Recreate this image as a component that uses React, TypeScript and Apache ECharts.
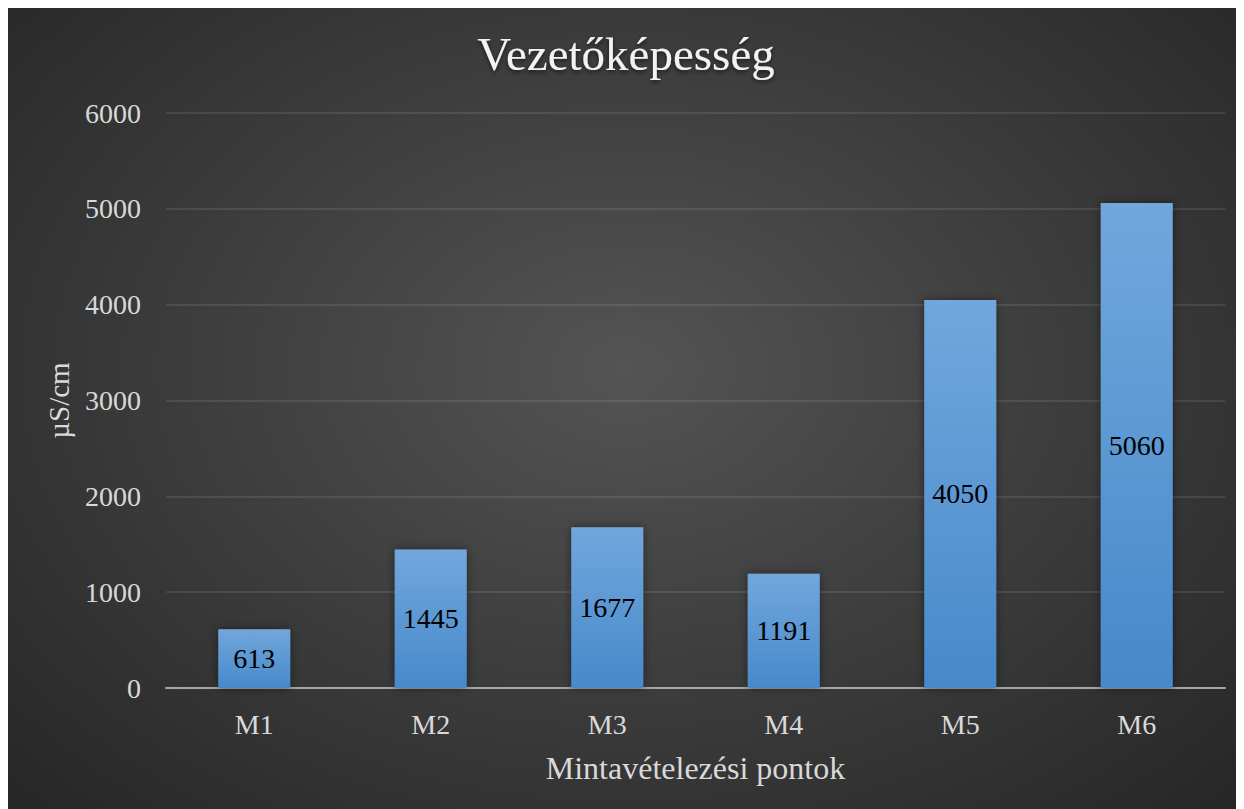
import React, { useEffect, useRef } from "react";
import * as echarts from "echarts";

const categories = ["M1", "M2", "M3", "M4", "M5", "M6"];
const values = [613, 1445, 1677, 1191, 4050, 5060];
const titleText = "Vezetőképesség";
const xName = "Mintavételezési pontok";
const yName = "µS/cm";

const FONT = "'Liberation Serif', 'Times New Roman', serif";

export default function App() {
  const ref = useRef<HTMLDivElement>(null);
  useEffect(() => {
    if (!ref.current) return;
    const chart = echarts.init(ref.current, null, { renderer: "svg" });
    chart.setOption({
      animation: false,
      backgroundColor: "transparent",
      title: {
        text: titleText,
        left: "center",
        top: 17,
        textStyle: {
          fontFamily: FONT,
          fontSize: 47,
          fontWeight: "normal",
          color: "#f2f2f2",
          textShadowColor: "rgba(0,0,0,0.6)",
          textShadowBlur: 4,
          textShadowOffsetY: 2,
        },
      },
      grid: { left: 158, right: 19, top: 105, bottom: 121 },
      xAxis: {
        type: "category",
        data: categories,
        name: xName,
        nameLocation: "middle",
        nameGap: 64,
        nameTextStyle: { fontFamily: FONT, fontSize: 32, color: "#d9d9d9" },
        axisLine: { lineStyle: { color: "#a6a6a6", width: 2 } },
        axisTick: { show: false },
        axisLabel: { fontFamily: FONT, fontSize: 28, color: "#d9d9d9", margin: 22 },
      },
      yAxis: {
        type: "value",
        min: 0,
        max: 6000,
        interval: 1000,
        name: yName,
        nameLocation: "middle",
        nameGap: 93,
        nameRotate: 90,
        nameTextStyle: { fontFamily: FONT, fontSize: 29, color: "#d9d9d9" },
        axisLine: { show: false },
        axisTick: { show: false },
        axisLabel: {
          fontFamily: FONT,
          fontSize: 28,
          color: "#d9d9d9",
          margin: 25,
          formatter: (v: number) => String(v),
        },
        splitLine: { lineStyle: { color: "rgba(255,255,255,0.13)", width: 1.5 } },
      },
      series: [
        {
          type: "bar",
          data: values,
          barWidth: 72,
          itemStyle: {
            color: new echarts.graphic.LinearGradient(0, 0, 0, 1, [
              { offset: 0, color: "#72a7dc" },
              { offset: 1, color: "#4689cb" },
            ]),
            shadowColor: "rgba(0,0,0,0.45)",
            shadowBlur: 10,
          },
          label: {
            show: true,
            position: "inside",
            fontFamily: FONT,
            fontSize: 28,
            color: "#000000",
          },
        },
      ],
    });
    return () => chart.dispose();
  }, []);
  return (
    <div
      ref={ref}
      style={{
        width: 1236,
        height: 801,
        background: "radial-gradient(ellipse at 50% 45%, #545454 0%, #3f3f3f 45%, #262626 100%)",
      }}
    />
  );
}
